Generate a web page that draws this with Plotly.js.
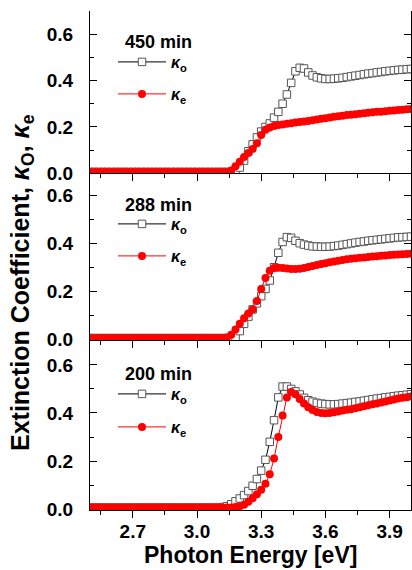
<!DOCTYPE html>
<html>
<head>
<meta charset="utf-8">
<script src="https://cdn.plot.ly/plotly-3.0.1.min.js"></script>
<style>html,body{margin:0;padding:0;background:#fff;}#chart{width:412px;height:570px;}</style>
</head>
<body>
<div id="chart"></div>
<script>
// Photon energy [eV]
const energy = [2.50,2.52,2.54,2.56,2.58,2.60,2.62,2.64,2.66,2.68,2.70,2.72,2.74,2.76,2.78,2.80,2.82,2.84,2.86,2.88,
  2.90,2.92,2.94,2.96,2.98,3.00,3.02,3.04,3.06,3.08,3.10,3.12,3.14,3.16,3.18,3.20,3.22,3.24,3.26,3.28,
  3.30,3.32,3.34,3.36,3.38,3.40,3.42,3.44,3.46,3.48,3.50,3.52,3.54,3.56,3.58,3.60,3.62,3.64,3.66,3.68,
  3.70,3.72,3.74,3.76,3.78,3.80,3.82,3.84,3.86,3.88,3.90,3.92,3.94,3.96,3.98,4.00];

const panelLabels = ["450 min", "288 min", "200 min"];

// 450 min
const ko450 = [0.006,0.006,0.006,0.006,0.006,0.006,0.006,0.006,0.006,0.006,0.006,0.006,0.006,0.006,0.006,0.006,0.006,0.006,0.006,0.006,
  0.006,0.006,0.006,0.006,0.006,0.006,0.006,0.006,0.006,0.006,0.006,0.006,0.006,0.006,
  0.008,0.025,0.055,0.095,0.125,0.155,0.18,0.20,0.215,0.24,0.265,0.30,0.34,0.39,0.44,0.455,
  0.452,0.435,0.422,0.414,0.41,0.407,0.407,0.408,0.41,0.412,0.415,0.418,0.421,0.424,0.427,0.43,
  0.432,0.435,0.437,0.44,0.442,0.444,0.446,0.447,0.449,0.45];
const ke450 = [0.006,0.006,0.006,0.006,0.006,0.006,0.006,0.006,0.006,0.006,0.006,0.006,0.006,0.006,0.006,0.006,0.006,0.006,0.006,0.006,
  0.006,0.006,0.006,0.006,0.006,0.006,0.006,0.006,0.006,0.006,0.006,0.006,0.006,
  0.012,0.03,0.05,0.07,0.088,0.105,0.13,0.165,0.188,0.198,0.204,0.208,0.211,0.214,0.216,0.219,0.221,
  0.224,0.226,0.229,0.232,0.235,0.238,0.241,0.244,0.246,0.248,0.251,0.253,0.255,0.257,0.259,0.261,
  0.263,0.265,0.266,0.268,0.27,0.271,0.273,0.274,0.276,0.277];

// 288 min
const ko288 = [0.006,0.006,0.006,0.006,0.006,0.006,0.006,0.006,0.006,0.006,0.006,0.006,0.006,0.006,0.006,0.006,0.006,0.006,0.006,0.006,
  0.006,0.006,0.006,0.006,0.006,0.006,0.006,0.006,0.006,0.006,0.006,0.006,0.006,0.006,
  0.01,0.035,0.065,0.095,0.125,0.15,0.18,0.21,0.245,0.30,0.36,0.405,0.425,0.422,0.41,0.40,
  0.394,0.39,0.387,0.386,0.385,0.385,0.386,0.388,0.39,0.393,0.396,0.399,0.402,0.405,0.407,0.41,
  0.412,0.414,0.416,0.418,0.42,0.422,0.424,0.425,0.426,0.427];
const ke288 = [0.006,0.006,0.006,0.006,0.006,0.006,0.006,0.006,0.006,0.006,0.006,0.006,0.006,0.006,0.006,0.006,0.006,0.006,0.006,0.006,
  0.006,0.006,0.006,0.006,0.006,0.006,0.006,0.006,0.006,0.006,0.006,0.006,
  0.008,0.02,0.042,0.065,0.088,0.108,0.125,0.16,0.21,0.255,0.285,0.297,0.298,0.297,0.295,0.293,0.293,0.294,
  0.297,0.301,0.305,0.309,0.313,0.317,0.321,0.324,0.327,0.33,0.333,0.335,0.337,0.339,0.341,0.343,
  0.345,0.346,0.348,0.349,0.351,0.352,0.353,0.354,0.355,0.356];

// 200 min
const ko200 = [0.006,0.006,0.006,0.006,0.006,0.006,0.006,0.006,0.006,0.006,0.006,0.006,0.006,0.006,0.006,0.006,0.006,0.006,0.006,0.006,
  0.006,0.006,0.006,0.006,0.006,0.006,0.006,0.006,0.006,0.006,0.006,
  0.008,0.012,0.02,0.032,0.044,0.058,0.075,0.097,0.125,0.16,0.205,0.28,0.37,0.465,0.51,0.51,0.50,0.49,0.477,
  0.463,0.453,0.447,0.442,0.439,0.437,0.436,0.436,0.437,0.439,0.441,0.443,0.446,0.448,0.451,0.454,
  0.457,0.46,0.462,0.465,0.467,0.47,0.472,0.474,0.476,0.478];
const ke200 = [0.006,0.006,0.006,0.006,0.006,0.006,0.006,0.006,0.006,0.006,0.006,0.006,0.006,0.006,0.006,0.006,0.006,0.006,0.006,0.006,
  0.006,0.006,0.006,0.006,0.006,0.006,0.006,0.006,0.006,0.006,0.006,0.006,0.006,0.006,
  0.008,0.012,0.018,0.03,0.045,0.062,0.08,0.105,0.145,0.21,0.30,0.39,0.465,0.487,0.478,0.458,
  0.44,0.424,0.412,0.404,0.40,0.399,0.40,0.403,0.406,0.41,0.413,0.416,0.42,0.424,0.428,0.432,
  0.436,0.44,0.444,0.448,0.452,0.456,0.46,0.463,0.466,0.469];

const xTickVals = [2.7, 3.0, 3.3, 3.6, 3.9];
const xTickText = ["2.7", "3.0", "3.3", "3.6", "3.9"];
const yTickVals = [0.0, 0.2, 0.4, 0.6];
const yTickText = ["0.0", "0.2", "0.4", "0.6"];

const FONT = "Arial, 'Liberation Sans', Helvetica, sans-serif";
const koSeries = [ko450, ko288, ko200];
const keSeries = [ke450, ke288, ke200];

const traces = [];
const axisIds = ['', '2', '3'];
for (let p = 0; p < 3; p++) {
  const ax = axisIds[p];
  traces.push({
    x: energy, y: koSeries[p], xaxis: 'x' + ax, yaxis: 'y' + ax,
    type: 'scatter', mode: 'lines+markers', name: '<i>κ</i><sub>o</sub>',
    line: {color: '#000', width: 1},
    marker: {symbol: 'square', size: 7.5, color: '#fff', line: {color: '#555', width: 1}},
    legend: p === 0 ? 'legend' : 'legend' + (p * 2 + 1)
  });
  traces.push({
    x: energy, y: keSeries[p], xaxis: 'x' + ax, yaxis: 'y' + ax,
    type: 'scatter', mode: 'lines+markers', name: '<i>κ</i><sub>e</sub>',
    line: {color: '#ff0000', width: 1},
    marker: {symbol: 'circle', size: 8, color: '#ff0000', line: {width: 0}},
    legend: 'legend' + (p * 2 + 2)
  });
}

const px2x = px => (px - 90) / 321;
const py2y = py => (510 - py) / 499;

function xAxis(anchor, showLabels) {
  return {
    anchor: anchor, range: [2.5, 4.0], tickvals: xTickVals, ticktext: xTickText,
    showticklabels: showLabels, ticks: 'outside', ticklen: 7, tickwidth: 1, tickcolor: '#000',
    minor: {tick0: 2.55, dtick: 0.15, ticks: 'outside', ticklen: 4, tickwidth: 1, tickcolor: '#000'},
    showline: true, linecolor: '#000', linewidth: 1, showgrid: false, zeroline: false,
    tickfont: {family: FONT, size: 19, color: '#000', weight: 700},
    ticklabelstandoff: -3
  };
}
function yAxis(domain, range) {
  return {
    domain: domain, range: range, tickvals: yTickVals, ticktext: yTickText,
    ticks: 'inside', ticklen: 7, tickwidth: 1, tickcolor: '#000',
    minor: {tick0: 0, dtick: 0.1, ticks: 'inside', ticklen: 4, tickwidth: 1, tickcolor: '#000'},
    showline: true, mirror: 'ticks', linecolor: '#000', linewidth: 1, showgrid: false, zeroline: false,
    tickfont: {family: FONT, size: 19, color: '#000', weight: 700},
    ticklabelstandoff: 12
  };
}

const legendRows = [62, 94, 224, 256, 394, 427];
const layout = {
  width: 412, height: 570,
  margin: {l: 90, r: 1, t: 11, b: 60},
  paper_bgcolor: '#fff', plot_bgcolor: '#fff',
  font: {family: FONT, color: '#000'},
  showlegend: true,
  xaxis: xAxis('y', false),
  xaxis2: Object.assign(xAxis('y2', false), {matches: 'x'}),
  xaxis3: Object.assign(xAxis('y3', true), {matches: 'x'}),
  xaxis4: {overlaying: 'x', anchor: 'y', side: 'top', range: [2.5, 4.0], tickvals: xTickVals,
    showticklabels: false, ticks: 'inside', ticklen: 7, tickcolor: '#000',
    minor: {tick0: 2.55, dtick: 0.15, ticks: 'inside', ticklen: 4, tickcolor: '#000'},
    showline: true, linecolor: '#000', linewidth: 1, showgrid: false, zeroline: false},
  yaxis: yAxis([0.6747, 1], [0, 0.70]),
  yaxis2: yAxis([0.3407, 0.6747], [-0.002, 0.69]),
  yaxis3: yAxis([0, 0.3407], [-0.004, 0.704]),
  annotations: [
    {xref: 'paper', yref: 'paper', x: px2x(22), y: py2y(283), textangle: -90, showarrow: false,
     xanchor: 'center', yanchor: 'middle',
     text: 'Extinction Coefficient, <i>κ</i><sub>O</sub>, <i>κ</i><sub>e</sub>',
     font: {family: FONT, size: 25, color: '#000', weight: 700}},
    {xref: 'paper', yref: 'paper', x: 0.5, y: py2y(555), showarrow: false,
     xanchor: 'center', yanchor: 'middle', text: 'Photon Energy [eV]',
     font: {family: FONT, size: 23, color: '#000', weight: 700}}
  ]
};
const titleRows = [42, 205, 374];
for (let p = 0; p < 3; p++) {
  layout.annotations.push({xref: 'paper', yref: 'paper', x: px2x(123), y: py2y(titleRows[p]),
    xanchor: 'left', yanchor: 'middle', showarrow: false, text: panelLabels[p],
    font: {family: FONT, size: 18, color: '#000', weight: 700}});
}
for (let i = 0; i < 6; i++) {
  const key = i === 0 ? 'legend' : 'legend' + (i + 1);
  layout[key] = {x: px2x(113), y: py2y(legendRows[i]), xanchor: 'left', yanchor: 'middle',
    bgcolor: 'rgba(0,0,0,0)', borderwidth: 0, itemwidth: 48,
    font: {family: FONT, size: 16, color: '#000', weight: 700}};
}

Plotly.newPlot('chart', traces, layout, {staticPlot: true});
</script>
</body>
</html>
